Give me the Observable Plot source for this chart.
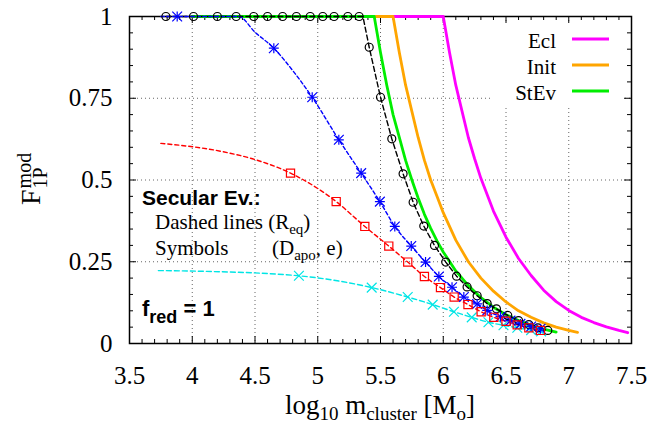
<!DOCTYPE html>
<html>
<head>
<meta charset="utf-8">
<script src="https://cdn.jsdelivr.net/npm/d3@7"></script>
<script src="https://cdn.jsdelivr.net/npm/@observablehq/plot@0.6"></script>
<style>
  html, body { margin: 0; padding: 0; background: #fff; }
  #chart { width: 666px; height: 423px; }
</style>
</head>
<body>
<div id="chart"></div>
<script>
// ---------- axes ----------
const xMajor = [3.5, 4, 4.5, 5, 5.5, 6, 6.5, 7, 7.5];
const xMajorLabels = ["3.5", "4", "4.5", "5", "5.5", "6", "6.5", "7", "7.5"];
const yMajor = [0, 0.25, 0.5, 0.75, 1];
const yMajorLabels = ["0", "0.25", "0.5", "0.75", "1"];
const xGrid = [4, 4.5, 5, 5.5, 6, 6.5, 7];
const yGrid = [0.25, 0.5, 0.75];

// ---------- solid curves ----------
const eclX = [4.0, 6.0, 6.05, 6.1, 6.15, 6.2, 6.25, 6.3, 6.4, 6.5, 6.6, 6.7, 6.8, 6.9, 7.0, 7.1, 7.2, 7.3, 7.4, 7.47];
const eclY = [1, 1, 0.89, 0.79, 0.71, 0.63, 0.565, 0.505, 0.405, 0.325, 0.26, 0.208, 0.163, 0.128, 0.101, 0.08, 0.064, 0.051, 0.04, 0.033];
const initX = [4.0, 5.6, 5.65, 5.7, 5.75, 5.8, 5.85, 5.9, 5.95, 6.0, 6.1, 6.2, 6.3, 6.4, 6.5, 6.6, 6.7, 6.8, 6.9, 7.0, 7.07];
const initY = [1, 1, 0.89, 0.79, 0.71, 0.63, 0.56, 0.50, 0.45, 0.40, 0.316, 0.25, 0.20, 0.16, 0.127, 0.10, 0.08, 0.063, 0.05, 0.04, 0.034];
const stevX = [4.0, 5.45, 5.5, 5.55, 5.6, 5.65, 5.7, 5.75, 5.8, 5.85, 5.9, 5.95, 6.0, 6.1, 6.2, 6.3, 6.4, 6.5, 6.6, 6.7, 6.8, 6.9];
const stevY = [1, 1, 0.89, 0.79, 0.70, 0.63, 0.56, 0.50, 0.445, 0.395, 0.352, 0.314, 0.28, 0.222, 0.177, 0.14, 0.111, 0.088, 0.07, 0.056, 0.044, 0.035];

// ---------- dashed lines (R_eq) ----------
const blackLineX = [3.79, 5.36, 5.41, 5.5, 5.59, 5.68, 5.76, 5.845, 5.93, 6.02, 6.106, 6.19, 6.27, 6.35, 6.424, 6.514, 6.6, 6.682, 6.754, 6.833];
const blackLineY = [1, 1, 0.906, 0.753, 0.626, 0.519, 0.432, 0.359, 0.30, 0.249, 0.206, 0.173, 0.146, 0.122, 0.106, 0.086, 0.070, 0.058, 0.048, 0.040];
const blueLineX = [3.75, 4.37, 4.5, 4.65, 4.81, 4.956, 5.168, 5.346, 5.495, 5.614, 5.745, 5.859, 5.965, 6.07, 6.164, 6.27, 6.35, 6.456, 6.536, 6.615, 6.70, 6.775];
const blueLineY = [1, 1, 0.952, 0.903, 0.83, 0.753, 0.623, 0.521, 0.434, 0.358, 0.298, 0.249, 0.205, 0.172, 0.142, 0.121, 0.101, 0.082, 0.070, 0.060, 0.052, 0.045];
const redLineX = [3.75, 4.225, 4.504, 4.783, 5.147, 5.375, 5.566, 5.717, 5.85, 5.978, 6.087, 6.197, 6.302, 6.403, 6.5, 6.589, 6.682, 6.775];
const redLineY = [0.612, 0.588, 0.562, 0.521, 0.434, 0.358, 0.298, 0.249, 0.205, 0.171, 0.142, 0.119, 0.097, 0.080, 0.068, 0.057, 0.048, 0.040];
const cyanLineX = [3.73, 4.06, 4.85, 5.43, 5.717, 5.916, 6.085, 6.227, 6.36, 6.48, 6.59, 6.7, 6.78];
const cyanLineY = [0.223, 0.221, 0.207, 0.171, 0.142, 0.119, 0.097, 0.080, 0.065, 0.056, 0.048, 0.041, 0.037];

// ---------- symbols (D_apo, e) ----------
const circX = [3.79, 4.01, 4.2, 4.35, 4.49, 4.6, 4.72, 4.83, 4.94, 5.04, 5.13, 5.24, 5.33, 5.41, 5.5, 5.59, 5.68, 5.76, 5.845, 5.93, 6.02, 6.106, 6.19, 6.27, 6.35, 6.424, 6.514, 6.6, 6.682, 6.754, 6.833];
const circY = [1, 1, 1, 1, 1, 1, 1, 1, 1, 1, 1, 1, 1, 0.906, 0.753, 0.626, 0.519, 0.432, 0.359, 0.30, 0.249, 0.206, 0.173, 0.146, 0.122, 0.106, 0.086, 0.070, 0.058, 0.048, 0.040];
const starX = [3.88, 4.65, 4.956, 5.168, 5.346, 5.495, 5.614, 5.745, 5.859, 5.965, 6.07, 6.164, 6.27, 6.35, 6.456, 6.536, 6.615, 6.70, 6.775];
const starY = [1, 0.903, 0.753, 0.623, 0.521, 0.434, 0.358, 0.298, 0.249, 0.205, 0.172, 0.142, 0.121, 0.101, 0.082, 0.070, 0.060, 0.052, 0.045];
const sqX = [4.783, 5.147, 5.375, 5.566, 5.717, 5.85, 5.978, 6.087, 6.197, 6.302, 6.403, 6.5, 6.589, 6.682, 6.775];
const sqY = [0.521, 0.434, 0.358, 0.298, 0.249, 0.205, 0.171, 0.142, 0.119, 0.097, 0.080, 0.068, 0.057, 0.048, 0.040];
const crossX = [4.85, 5.43, 5.717, 5.916, 6.085, 6.227, 6.36, 6.48, 6.59, 6.7, 6.78];
const crossY = [0.207, 0.171, 0.142, 0.119, 0.097, 0.080, 0.065, 0.056, 0.048, 0.041, 0.037];

const legendNames = ["Ecl", "Init", "StEv"];
const legendColors = ["#ff00ff", "#ffa500", "#00ee00"];

// ---------- build ----------
const pts = (xs, ys) => xs.map((x, i) => ({x, y: ys[i]}));
const W = 666, H = 423, mL = 129, mR = 35, mT = 16, mB = 80;
const PW = W - mL - mR, PH = H - mT - mB;
const xMinor = d3.range(36, 75).map(d => d / 10).filter(d => !xMajor.some(m => Math.abs(m - d) < 1e-9));
const yMinor = d3.range(1, 20).map(d => d / 20).filter(d => !yMajor.some(m => Math.abs(m - d) < 1e-9));
const serif = "Liberation Serif";
const sans = "Liberation Sans";

const plot = Plot.plot({
  width: W, height: H,
  marginLeft: mL, marginRight: mR, marginTop: mT, marginBottom: mB,
  style: {fontFamily: serif, fontSize: "25px", background: "#fff", color: "#000", overflow: "visible"},
  x: {domain: [3.5, 7.5]},
  y: {domain: [0, 1]},
  marks: [
    Plot.ruleX(xGrid, {x: d => d, stroke: "#666", strokeWidth: 1, strokeDasharray: "1,3"}),
    Plot.ruleY(yGrid, {y: d => d, stroke: "#666", strokeWidth: 1, strokeDasharray: "1,3"}),
    // inward ticks
    Plot.tickX(xMajor, {x: d => d, insetTop: PH - 7, stroke: "#000"}),
    Plot.tickX(xMajor, {x: d => d, insetBottom: PH - 7, stroke: "#000"}),
    Plot.tickX(xMinor, {x: d => d, insetTop: PH - 4, stroke: "#000"}),
    Plot.tickX(xMinor, {x: d => d, insetBottom: PH - 4, stroke: "#000"}),
    Plot.tickY(yMajor, {y: d => d, insetRight: PW - 7, stroke: "#000"}),
    Plot.tickY(yMajor, {y: d => d, insetLeft: PW - 7, stroke: "#000"}),
    Plot.tickY(yMinor, {y: d => d, insetRight: PW - 4, stroke: "#000"}),
    Plot.tickY(yMinor, {y: d => d, insetLeft: PW - 4, stroke: "#000"}),
    Plot.frame({stroke: "#000", strokeWidth: 1.5}),
    Plot.axisX({ticks: xMajor, tickSize: 0, tickPadding: 23, fontSize: 25, fontFamily: serif, label: null,
      tickFormat: d => xMajorLabels[xMajor.indexOf(d)]}),
    Plot.axisY({ticks: yMajor, tickSize: 0, tickPadding: 17, fontSize: 25, fontFamily: serif, label: null,
      tickFormat: d => yMajorLabels[yMajor.indexOf(d)]}),
    // solid curves
    Plot.line(pts(eclX, eclY), {x: "x", y: "y", stroke: legendColors[0], strokeWidth: 2.8}),
    Plot.line(pts(initX, initY), {x: "x", y: "y", stroke: legendColors[1], strokeWidth: 2.8}),
    Plot.line(pts(stevX, stevY), {x: "x", y: "y", stroke: legendColors[2], strokeWidth: 2.8}),
    // dashed lines
    Plot.line(pts(cyanLineX, cyanLineY), {x: "x", y: "y", stroke: "#00e5e5", strokeWidth: 1.4, strokeDasharray: "5,3", curve: "monotone-x"}),
    Plot.line(pts(blackLineX, blackLineY), {x: "x", y: "y", stroke: "#000", strokeWidth: 1.4, strokeDasharray: "5,3"}),
    Plot.line(pts(blueLineX, blueLineY), {x: "x", y: "y", stroke: "#0000ff", strokeWidth: 1.4, strokeDasharray: "3.5,2.5", curve: "monotone-x"}),
    Plot.line(pts(redLineX, redLineY), {x: "x", y: "y", stroke: "#ff0000", strokeWidth: 1.4, strokeDasharray: "4,3", curve: "monotone-x"}),
    // symbols
    Plot.dot(pts(crossX, crossY), {x: "x", y: "y", symbol: "times", r: 4.5, stroke: "#00e5e5", strokeWidth: 1.2}),
    Plot.dot(pts(circX, circY), {x: "x", y: "y", symbol: "circle", r: 4, stroke: "#000", fill: "none", strokeWidth: 1.2}),
    Plot.dot(pts(starX, starY), {x: "x", y: "y", symbol: "plus", r: 3.3, stroke: "#0000ff", strokeWidth: 1.2}),
    Plot.dot(pts(starX, starY), {x: "x", y: "y", symbol: "times", r: 4.5, stroke: "#0000ff", strokeWidth: 1.2}),
    Plot.dot(pts(sqX, sqY), {x: "x", y: "y", symbol: "square", r: 4.6, stroke: "#ff0000", fill: "none", strokeWidth: 1.2})
  ]
});
document.getElementById("chart").appendChild(plot);

// ---------- annotations ----------
const svg = d3.select(plot);
const g = svg.append("g").attr("fill", "#000").attr("text-anchor", "start");

// legend box
g.append("rect").attr("x", 492).attr("y", 24).attr("width", 131).attr("height", 84).attr("fill", "#fff");
const legY = [39, 65, 91];
legendNames.forEach((name, i) => {
  g.append("text").attr("x", 556).attr("y", legY[i] + 8.5).attr("text-anchor", "end")
    .attr("font-family", serif).attr("font-size", 21).text(name);
  g.append("line").attr("x1", 572).attr("x2", 609).attr("y1", legY[i]).attr("y2", legY[i])
    .attr("stroke", legendColors[i]).attr("stroke-width", 2.8);
});

// annotation block
g.append("text").attr("x", 142).attr("y", 205).attr("font-family", sans).attr("font-weight", "bold")
  .attr("font-size", 21).text("Secular Ev.:");
const t1 = g.append("text").attr("x", 155).attr("y", 229).attr("font-family", serif).attr("font-size", 21);
t1.append("tspan").text("Dashed lines (R");
t1.append("tspan").attr("dy", 5).attr("font-size", 15).text("eq");
t1.append("tspan").attr("dy", -5).text(")");
g.append("text").attr("x", 155).attr("y", 255).attr("font-family", serif).attr("font-size", 21).text("Symbols");
const t2 = g.append("text").attr("x", 272).attr("y", 255).attr("font-family", serif).attr("font-size", 21);
t2.append("tspan").text("(D");
t2.append("tspan").attr("dy", 5).attr("font-size", 15).text("apo");
t2.append("tspan").attr("dy", -5).text(", e)");
const t3 = g.append("text").attr("x", 142).attr("y", 316).attr("font-family", sans).attr("font-weight", "bold").attr("font-size", 22);
t3.append("tspan").text("f");
t3.append("tspan").attr("dy", 7).attr("font-size", 18).text("red");
t3.append("tspan").attr("dy", -7).text(" = 1");

// x-axis label
const xl = g.append("text").attr("x", (mL + W - mR) / 2).attr("y", 414).attr("text-anchor", "middle")
  .attr("font-family", serif).attr("font-size", 27);
xl.append("tspan").text("log");
xl.append("tspan").attr("dy", 6).attr("font-size", 19).text("10");
xl.append("tspan").attr("dy", -6).text(" m");
xl.append("tspan").attr("dy", 6).attr("font-size", 19).text("cluster");
xl.append("tspan").attr("dy", -6).text(" [M");
xl.append("tspan").attr("dy", 6).attr("font-size", 19).text("o");
xl.append("tspan").attr("dy", -6).text("]");

// y-axis label (rotated, F with stacked super/subscript)
const yl = g.append("g").attr("transform", "translate(40,205) rotate(-90)");
const fT = yl.append("text").attr("x", 0).attr("y", 0).attr("font-family", serif).attr("font-size", 28).text("F");
const fw = fT.node().getComputedTextLength();
yl.append("text").attr("x", fw + 1).attr("y", -9).attr("font-family", serif).attr("font-size", 20).text("mod");
yl.append("text").attr("x", fw + 1).attr("y", 7).attr("font-family", serif).attr("font-size", 20).text("1P");
</script>
</body>
</html>
